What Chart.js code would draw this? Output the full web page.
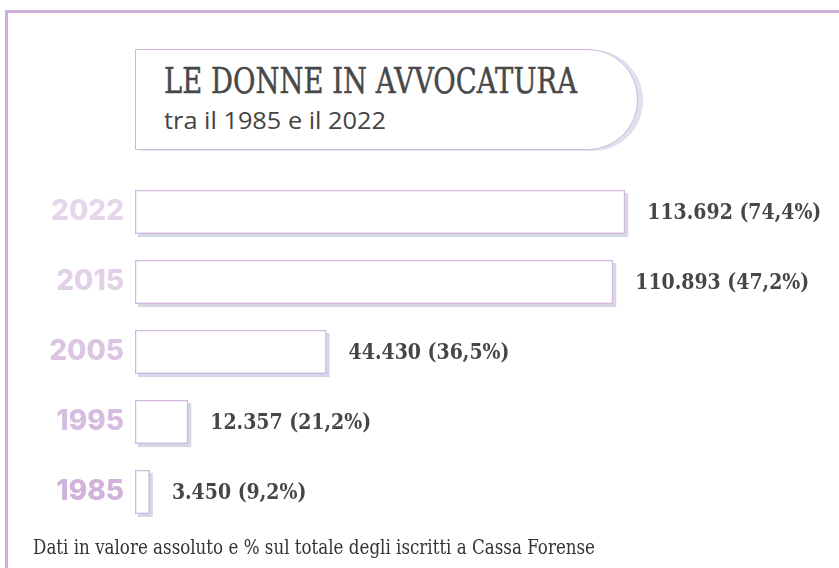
<!DOCTYPE html>
<html>
<head>
<meta charset="utf-8">
<script src="https://cdn.jsdelivr.net/npm/chart.js@4/dist/chart.umd.min.js"></script>
<style>
    html, body { margin: 0; padding: 0; background: #fff; }
    body { width: 839px; height: 568px; position: relative; overflow: hidden; }
    #frame {
        position: absolute; left: 5px; top: 10px; width: 850px; height: 600px;
        border-top: 3px solid #cdaed8; border-left: 3px solid #cdaed8;
    }
    #chart { position: absolute; left: 0; top: 0; }
    #titleBox {
        position: absolute; left: 135px; top: 49px; width: 501px; height: 99px;
        border: 1px solid #d2b6dc; border-radius: 0 50px 50px 0;
        background: #fff; box-shadow: 5px 1px 0 #dfe1ee;
    }
    .fit { position: absolute; white-space: nowrap; transform-origin: 0 0; }
    #title { left: 164px; top: 60px; font: 36px "DejaVu Serif"; color: #484848; -webkit-text-stroke: 0.5px #484848; }
    #subtitle { left: 164px; top: 104px; font: 23px "Open Sans"; color: #444; }
    #note { left: 33px; top: 535px; font: 20px "DejaVu Serif"; color: #333; }
</style>
</head>
<body>
<div id="frame"></div>
<div id="titleBox"></div>
<div class="fit" id="title" data-w="413">LE DONNE IN AVVOCATURA</div>
<div class="fit" id="subtitle" data-w="222">tra il 1985 e il 2022</div>
<canvas id="chart" width="839" height="568"></canvas>
<div class="fit" id="note" data-w="562">Dati in valore assoluto e % sul totale degli iscritti a Cassa Forense</div>
<script>
const years = ['2022', '2015', '2005', '1995', '1985'];
const counts = [113692, 110893, 44430, 12357, 3450];
const shares = [74.4, 47.2, 36.5, 21.2, 9.2];
const yearColors = ['#e6d6eb', '#e2d0e8', '#dcc5e3', '#d6bce0', '#d0b2db'];

// larghezza dei testi come nel riferimento
document.querySelectorAll('.fit').forEach(el => {
    const w = el.getBoundingClientRect().width;
    el.style.transform = 'scaleX(' + (el.dataset.w / w) + ')';
});

function fmtNum(n) {
    return n.toString().replace(/\B(?=(\d{3})+(?!\d))/g, '.');
}

function valueText(i) {
    return fmtNum(counts[i]) + ' (' + shares[i].toFixed(1).replace('.', ',') + '%)';
}

// ombra dei rettangoli
const barShadow = {
    id: 'barShadow',
    beforeDatasetsDraw(chart) {
        const ctx = chart.ctx;
        ctx.save();
        ctx.fillStyle = '#d6d8e8';
        chart.getDatasetMeta(0).data.forEach(bar => {
            const p = bar.getProps(['x', 'y', 'base', 'height'], true);
            ctx.fillRect(p.base + 3, p.y - p.height / 2 + 3, p.x - p.base, p.height);
        });
        ctx.restore();
    }
};

// etichette valore (assoluto e %)
const valueLabels = {
    id: 'valueLabels',
    afterDatasetsDraw(chart) {
        const ctx = chart.ctx;
        ctx.save();
        ctx.fillStyle = '#464646';
        ctx.font = 'bold 22px "DejaVu Serif"';
        ctx.textBaseline = 'middle';
        const k = 174 / ctx.measureText(valueText(0)).width;
        chart.getDatasetMeta(0).data.forEach((bar, i) => {
            ctx.save();
            ctx.translate(bar.x + 22, bar.y + 1);
            ctx.scale(k, 1.05);
            ctx.fillText(valueText(i), 0, 0);
            ctx.restore();
        });
        ctx.restore();
    }
};

new Chart(document.getElementById('chart'), {
    type: 'bar',
    data: {
        labels: years,
        datasets: [{
            data: counts,
            backgroundColor: '#ffffff',
            borderColor: '#d4b8df',
            borderWidth: 1.5,
            borderSkipped: false,
            categoryPercentage: 1,
            barPercentage: 0.63
        }]
    },
    options: {
        indexAxis: 'y',
        responsive: false,
        animation: false,
        devicePixelRatio: 1,
        layout: { padding: { top: 177, bottom: 41, left: 0, right: 14 } },
        scales: {
            x: { display: false, min: 0, max: 160000 },
            y: {
                grid: { display: false },
                border: { display: false },
                ticks: {
                    color: ctx => yearColors[ctx.index],
                    font: { family: 'Inter', weight: '800', size: 28 },
                    padding: 3
                },
                afterFit: s => { s.width = 135; }
            }
        },
        plugins: {
            legend: { display: false },
            tooltip: { enabled: false }
        }
    },
    plugins: [barShadow, valueLabels]
});
</script>
</body>
</html>
